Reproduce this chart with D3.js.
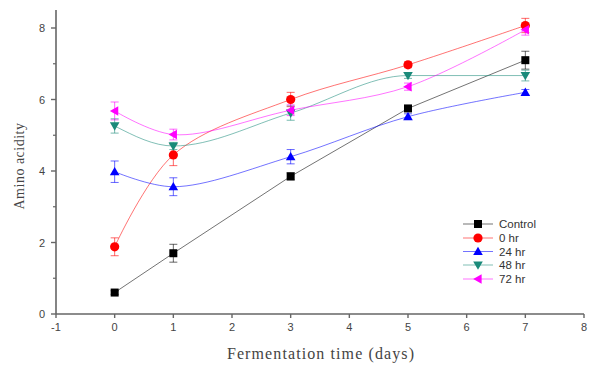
<!DOCTYPE html>
<html>
<head>
<meta charset="utf-8">
<script src="https://cdn.jsdelivr.net/npm/d3@7"></script>
<style>
  body { margin: 0; background: #fff; }
  svg { display: block; }
</style>
</head>
<body>
<div id="chart"></div>
<script>
'use strict'

// Days of fermentation
const days = [0, 1, 3, 5, 7];

// Series values
const control = [0.6, 1.7, 3.85, 5.75, 7.1];
const hr0 = [1.88, 4.45, 6.0, 6.97, 8.07];
const hr24 = [3.98, 3.56, 4.4, 5.52, 6.2];
const hr48 = [5.26, 4.7, 5.62, 6.67, 6.67];
const hr72 = [5.68, 5.02, 5.7, 6.36, 7.95];

// Error bars (half heights)
const errControl = [0.05, 0.25, 0.1, 0.08, 0.25];
const err0 = [0.25, 0.3, 0.2, 0.08, 0.2];
const err24 = [0.3, 0.25, 0.2, 0.08, 0.08];
const err48 = [0.2, 0.1, 0.2, 0.08, 0.15];
const err72 = [0.25, 0.15, 0.15, 0.1, 0.15];

const seriesNames = ['Control', '0 hr', '24 hr', '48 hr', '72 hr'];
const xTicks = [-1, 0, 1, 2, 3, 4, 5, 6, 7, 8];
const yTicks = [0, 2, 4, 6, 8];
const yMinor = [1, 3, 5, 7];

const width = 595;
const height = 366;

const series = [
	{ name: seriesNames[0], values: control, err: errControl, color: '#000000', symbol: 'square', curve: d3.curveLinear },
	{ name: seriesNames[1], values: hr0, err: err0, color: '#ff0000', symbol: 'circle', curve: d3.curveCatmullRom },
	{ name: seriesNames[2], values: hr24, err: err24, color: '#0000ff', symbol: 'up', curve: d3.curveCatmullRom },
	{ name: seriesNames[3], values: hr48, err: err48, color: '#1a8a7a', symbol: 'down', curve: d3.curveMonotoneX },
	{ name: seriesNames[4], values: hr72, err: err72, color: '#ff00ff', symbol: 'left', curve: d3.curveCatmullRom }
];

const svg = d3.select('#chart')
	.append('svg')
	.attr('width', width)
	.attr('height', height);

const x = d3.scaleLinear().domain([-1, 8]).range([56, 584]);
const y = d3.scaleLinear().domain([0, 8]).range([314, 28]);

// Axes
const axisColor = '#666';

svg.append('line')
	.attr('x1', x(-1)).attr('x2', x(8))
	.attr('y1', y(0)).attr('y2', y(0))
	.style('stroke', axisColor).style('stroke-width', 1.6);

svg.append('line')
	.attr('x1', x(-1)).attr('x2', x(-1))
	.attr('y1', y(0)).attr('y2', 10)
	.style('stroke', axisColor).style('stroke-width', 1.6);

svg.append('g')
	.selectAll('line')
	.data(xTicks)
	.enter()
	.append('line')
		.attr('x1', d => x(d)).attr('x2', d => x(d))
		.attr('y1', y(0)).attr('y2', y(0) + 4)
		.style('stroke', axisColor).style('stroke-width', 1.4);

svg.append('g')
	.selectAll('text')
	.data(xTicks)
	.enter()
	.append('text')
		.attr('x', d => x(d))
		.attr('y', y(0) + 17)
		.attr('text-anchor', 'middle')
		.style('font-family', 'Liberation Sans, Arial, sans-serif')
		.style('font-size', '11px')
		.style('fill', '#444')
		.text(d => d);

svg.append('g')
	.selectAll('line')
	.data(yTicks)
	.enter()
	.append('line')
		.attr('x1', x(-1) - 5).attr('x2', x(-1))
		.attr('y1', d => y(d)).attr('y2', d => y(d))
		.style('stroke', axisColor).style('stroke-width', 1.4);

svg.append('g')
	.selectAll('line')
	.data(yMinor)
	.enter()
	.append('line')
		.attr('x1', x(-1) - 3).attr('x2', x(-1))
		.attr('y1', d => y(d)).attr('y2', d => y(d))
		.style('stroke', axisColor).style('stroke-width', 1.2);

svg.append('g')
	.selectAll('text')
	.data(yTicks)
	.enter()
	.append('text')
		.attr('x', x(-1) - 11)
		.attr('y', d => y(d) + 4)
		.attr('text-anchor', 'end')
		.style('font-family', 'Liberation Sans, Arial, sans-serif')
		.style('font-size', '11px')
		.style('fill', '#444')
		.text(d => d);

// Axis titles
svg.append('text')
	.attr('x', 321)
	.attr('y', 359)
	.attr('text-anchor', 'middle')
	.style('font-family', 'Liberation Serif, Times New Roman, serif')
	.style('font-size', '16px')
	.style('letter-spacing', '1.1px')
	.style('fill', '#444')
	.text('Fermentation time (days)');

svg.append('text')
	.attr('transform', 'translate(24,' + 166 + ') rotate(-90)')
	.attr('text-anchor', 'middle')
	.style('font-family', 'Liberation Serif, Times New Roman, serif')
	.style('font-size', '14px')
	.style('letter-spacing', '0.5px')
	.style('fill', '#444')
	.text('Amino acidity');

// Marker drawing
function drawMarker(g, type, cx, cy, color) {
	const s = 4;
	if (type === 'square') {
		g.append('rect')
			.attr('x', cx - s).attr('y', cy - s)
			.attr('width', s * 2).attr('height', s * 2)
			.style('fill', color);
	} else if (type === 'circle') {
		g.append('circle')
			.attr('cx', cx).attr('cy', cy).attr('r', s + 0.6)
			.style('fill', color);
	} else {
		let pts;
		const t = s + 0.8;
		if (type === 'up') pts = [[cx, cy - t], [cx + t, cy + t * 0.75], [cx - t, cy + t * 0.75]];
		if (type === 'down') pts = [[cx, cy + t], [cx + t, cy - t * 0.75], [cx - t, cy - t * 0.75]];
		if (type === 'left') pts = [[cx - t, cy], [cx + t * 0.75, cy - t], [cx + t * 0.75, cy + t]];
		g.append('polygon')
			.attr('points', pts.map(p => p.join(',')).join(' '))
			.style('fill', color);
	}
}

// Lines, error bars and markers
for (let s of series) {
	const pts = days.map((d, i) => ({ day: d, v: s.values[i], e: s.err[i] }));
	const g = svg.append('g');

	const line = d3.line()
		.x(d => x(d.day))
		.y(d => y(d.v))
		.curve(s.curve);

	g.append('path')
		.attr('d', line(pts))
		.style('fill', 'none')
		.style('stroke', s.color)
		.style('stroke-width', 1)
		.style('stroke-opacity', 0.55);

	for (let p of pts) {
		const px = x(p.day);
		g.append('line')
			.attr('x1', px).attr('x2', px)
			.attr('y1', y(p.v - p.e)).attr('y2', y(p.v + p.e))
			.style('stroke', s.color).style('stroke-width', 1).style('stroke-opacity', 0.6);
		for (let yy of [p.v - p.e, p.v + p.e]) {
			g.append('line')
				.attr('x1', px - 4).attr('x2', px + 4)
				.attr('y1', y(yy)).attr('y2', y(yy))
				.style('stroke', s.color).style('stroke-width', 1).style('stroke-opacity', 0.6);
		}
	}
}

for (let s of series) {
	const g = svg.append('g');
	days.forEach((d, i) => drawMarker(g, s.symbol, x(d), y(s.values[i]), s.color));
}

// Legend
const legendY = [224, 238, 251.5, 265, 279];
const legend = svg.append('g');
series.forEach((s, i) => {
	const ly = legendY[i];
	legend.append('line')
		.attr('x1', 463).attr('x2', 493)
		.attr('y1', ly).attr('y2', ly)
		.style('stroke', s.color).style('stroke-width', 1).style('stroke-opacity', 0.55);
	drawMarker(legend, s.symbol, 478, ly, s.color);
	legend.append('text')
		.attr('x', 499)
		.attr('y', ly + 4)
		.style('font-family', 'Liberation Sans, Arial, sans-serif')
		.style('font-size', '11.5px')
		.style('fill', '#333')
		.text(s.name);
});
</script>
</body>
</html>
